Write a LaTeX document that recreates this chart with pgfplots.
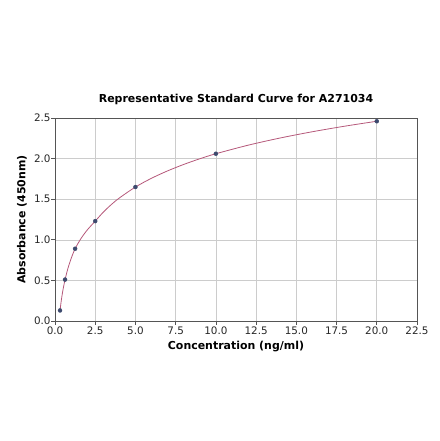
\documentclass[border=0pt]{standalone}
\usepackage{pgfplots}
\pgfplotsset{compat=1.18}
\usepackage{fontspec}
\setmainfont{DejaVu Sans}
\definecolor{curvecol}{HTML}{B5587A}
\definecolor{dotcol}{HTML}{3D4A6E}
\definecolor{gridcol}{HTML}{CCCCCC}
\definecolor{axcol}{HTML}{555555}
\begin{document}
\begin{tikzpicture}
\begin{axis}[
  scale only axis,
  width=362bp, height=203bp,
  xmin=0, xmax=22.5, ymin=0, ymax=2.5,
  xtick={0,2.5,...,22.5},
  ytick={0,0.5,...,2.5},
  /pgf/number format/assume math mode=true,
  /pgf/number format/.cd, fixed, fixed zerofill, precision=1, /pgfplots/.cd,
  tick label style={font=\fontsize{10.4}{12}\selectfont, text=black!85},
  xticklabel style={yshift=1.5bp},
  yticklabel style={xshift=2.5bp},
  grid=major,
  major grid style={gridcol, line width=0.6pt},
  axis line style={axcol, line width=0.7pt},
  tick style={axcol, line width=0.7pt},
  tick align=outside,
  tick pos=left,
  major tick length=3.5bp,
  title={Representative Standard Curve for A271034},
  every axis title/.style={font=\bfseries\fontsize{11}{13}\selectfont, at={(axis description cs:0.5,1.074)}, anchor=base},
  xlabel={Concentration (ng/ml)},
  ylabel={Absorbance (450nm)},
  xlabel style={font=\bfseries\fontsize{11}{13}\selectfont, at={(axis description cs:0.5,-0.126)}, anchor=center},
  ylabel style={font=\bfseries\fontsize{11}{13}\selectfont, at={(axis description cs:-0.091,0.5)}, anchor=center},
]
\addplot[curvecol, line width=0.8pt, smooth, tension=0.5] coordinates {
(0.3125,0.13) (0.4,0.265) (0.5,0.388) (0.625,0.51) (0.8,0.645) (1.0,0.768)
(1.25,0.89) (1.6,1.011) (2.0,1.12) (2.5,1.23) (3,1.34) (3.5,1.434) (4,1.515)
(5,1.65) (6,1.758) (7,1.849) (8,1.928) (9,1.998) (10,2.06) (12,2.165)
(14,2.254) (16,2.331) (18,2.399) (20,2.46)
};
\addplot[only marks, mark=*, mark size=2pt, mark options={fill=dotcol, draw=dotcol}] coordinates {
(0.3125,0.13) (0.625,0.51) (1.25,0.89) (2.5,1.23) (5,1.65) (10,2.06) (20,2.46)
};
\end{axis}
\path ([xshift=-55bp,yshift=-120bp]current axis.south west) rectangle ([xshift=23bp,yshift=118bp]current axis.north east);
\end{tikzpicture}
\end{document}
